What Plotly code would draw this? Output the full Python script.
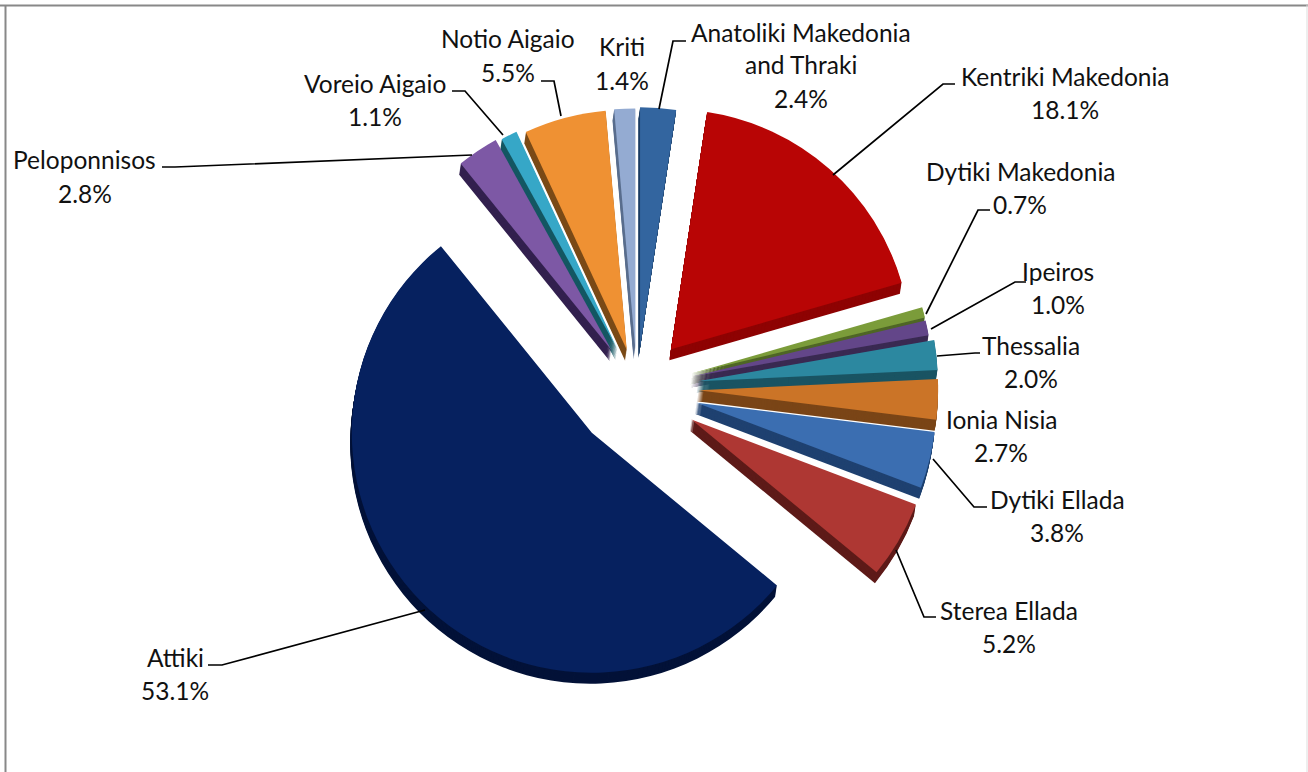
import plotly.graph_objects as go

W, H = 1308, 772

regions = ["Anatoliki Makedonia and Thraki", "Kentriki Makedonia", "Dytiki Makedonia", "Ipeiros",
           "Thessalia", "Ionia Nisia", "Dytiki Ellada", "Sterea Ellada", "Attiki",
           "Peloponnisos", "Voreio Aigaio", "Notio Aigaio", "Kriti"]
shares = [2.4, 18.1, 0.7, 1.0, 2.0, 2.7, 3.8, 5.2, 53.1, 2.8, 1.1, 5.5, 1.4]
pulls = [0.17, 0.215, 0.235, 0.235, 0.255, 0.255, 0.255, 0.262, 0.265, 0.19, 0.18, 0.165, 0.165]
top_colors = ["#33659F", "#B80505", "#7B9C3A", "#634689", "#2C88A0", "#CB7427", "#3B6EB1",
              "#AE3733", "#06215F", "#7D58A5", "#36A7C7", "#EF9133", "#94ABD2"]
side_colors = ["#1E3F66", "#8E0303", "#4F6626", "#3A2A52", "#1A5463", "#7A4517", "#1F4170",
               "#5E1B19", "#031238", "#33214F", "#155763", "#7A4A17", "#5A6E8E"]

# label lines, centre x, baseline-centre y per line (pixels)
label_lines = [["Anatoliki Makedonia", "and Thraki"], ["Kentriki Makedonia"], ["Dytiki Makedonia"], ["Ipeiros"],
               ["Thessalia"], ["Ionia Nisia"], ["Dytiki Ellada"], ["Sterea Ellada"], ["Attiki"],
               ["Peloponnisos"], ["Voreio Aigaio"], ["Notio Aigaio"], ["Kriti"]]
label_x = [801, 1065, 1020, 1058, 1031, 1001, 1057, 1009, 175, 85, 375, 508, 622]
label_y = [32, 76, 171, 271, 345, 419, 499, 610, 657, 160, 84, 39, 47]
LINE_STEP = 33

leaders = [
    [(659, 109), (673, 41), (686, 41)],
    [(833, 175), (943, 84), (955, 84)],
    [(926, 314), (978, 210), (990, 210)],
    [(931, 329), (1015, 282), (1026, 282)],
    [(937, 356), (975, 353), (980, 353)],
    None,
    [(933, 459), (974, 507), (987, 507)],
    [(896, 550), (924, 617), (936, 617)],
    [(425, 610), (222, 665), (208, 665)],
    [(472, 155), (175, 167), (162, 167)],
    [(503, 135), (465, 91), (452, 91)],
    [(561, 116), (554, 81), (541, 81)],
    None,
]

CX, CY, R = 637, 388, 240
DEPTH = 11


def px(x):
    return x / W


def py(y):
    return 1 - y / H


def pie_trace(colors, dx, dy):
    half = R * (1 + max(pulls))
    return go.Pie(
        labels=regions, values=shares, pull=pulls, sort=False, direction="clockwise", rotation=0,
        marker=dict(colors=colors, line=dict(width=0)), textinfo="none", hoverinfo="label+percent",
        showlegend=False,
        domain=dict(x=[px(CX + dx - half), px(CX + dx + half)], y=[py(CY + dy + half), py(CY + dy - half)]),
    )


fig = go.Figure()
for d in range(DEPTH, 0, -1):
    fig.add_trace(pie_trace(side_colors, -0.15 * d, d))
fig.add_trace(pie_trace(top_colors, 0, 0))

shapes = []
for pts in leaders:
    if pts is None:
        continue
    path = "M " + " L ".join(f"{px(x):.5f} {py(y):.5f}" for x, y in pts)
    shapes.append(dict(type="path", xref="paper", yref="paper", path=path,
                       line=dict(color="#000000", width=1.7)))
for (x0, y0, x1, y1, c, w) in [(0, 5.5, W, 5.5, "#888888", 2), (5.5, 5, 5.5, H, "#888888", 2),
                              (1307, 5, 1307, H, "#DDDDDD", 1)]:
    shapes.append(dict(type="line", xref="paper", yref="paper", x0=px(x0), x1=px(x1), y0=py(y0), y1=py(y1),
                       line=dict(color=c, width=w)))

annotations = []
for lines, value, x, y in zip(label_lines, shares, label_x, label_y):
    for i, t in enumerate(lines + [f"{value:.1f}%"]):
        annotations.append(dict(text=t, x=px(x), y=py(y + i * LINE_STEP), xref="paper", yref="paper",
                                showarrow=False, xanchor="center", yanchor="middle",
                                font=dict(family="Lato", size=24.5, color="#111111")))

fig.update_layout(width=W, height=H, margin=dict(l=0, r=0, t=0, b=0), paper_bgcolor="white",
                  shapes=shapes, annotations=annotations, showlegend=False)
fig.write_html("out.html", config={"displayModeBar": False},
               post_script="document.body.style.margin='0';"
                           "var s=document.createElement('style');"
                           "s.textContent='svg text{font-variant-ligatures:none}';"
                           "document.head.appendChild(s);")
